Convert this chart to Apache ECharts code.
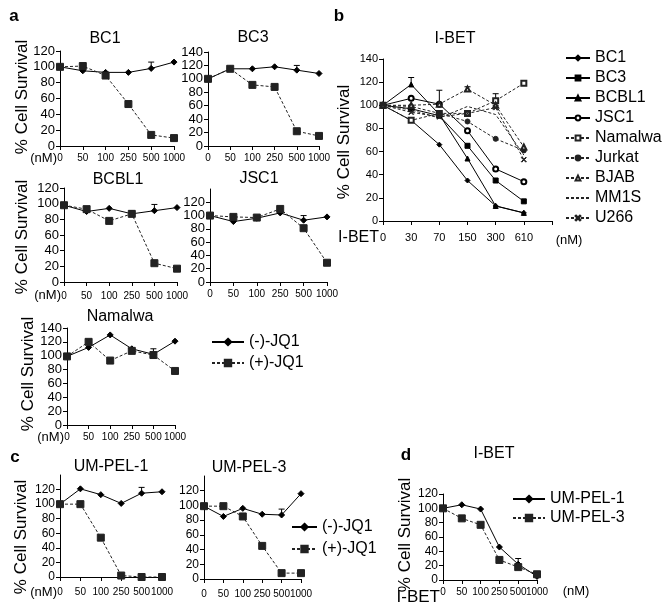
<!DOCTYPE html>
<html><head><meta charset="utf-8">
<script src="https://cdn.jsdelivr.net/npm/echarts@6/dist/echarts.min.js"></script>
<style>html,body{margin:0;padding:0;background:#fff}#c{width:672px;height:610px}</style>
</head><body><div id="c"></div>
<script>
// ---------- data ----------
const jqDoses = ['0','50','100','250','500','1000'];
const ibetDosesB = ['0','30','70','150','300','610',''];
const ibetDosesD = ['0','50','100','250','500','1000'];

const bc1Minus = [100,95,93,93,98,106];
const bc1Plus  = [100,101,89,53,14,10];
const bc1MinusErr = [0,0,0,0,8,0];
const bc3Minus = [100,115,115,118,113,108];
const bc3Plus  = [100,115,91,88,22,15];
const bc3MinusErr = [0,0,0,0,7,0];
const bcbl1Minus = [98,90,94,87,91,95];
const bcbl1Plus  = [98,93,78,87,24,17];
const bcbl1MinusErr = [0,0,0,4,8,0];
const jsc1Minus = [100,91,96,104,93,98];
const jsc1Plus  = [100,98,97,110,81,29];
const jsc1MinusErr = [0,0,0,0,7,0];
const namMinus = [99,112,130,110,102,121];
const namPlus  = [99,120,93,107,101,78];
const namMinusErr = [0,0,0,0,8,0];

const ibBC1 = [100,87,66,35,13,7];
const ibBC3 = [100,97,91,65,35,17];
const ibBCBL1 = [100,118,92,54,13,7];
const ibJSC1 = [100,106,101,78,45,34];
const ibNamalwa = [100,87,93,93,104,119];
const ibJurkat = [100,99,93,86,71,61];
const ibBJAB = [100,100,101,114,100,64];
const ibMM1S = [100,96,89,99,92,57];
const ibU266 = [100,94,90,93,98,53];
const ibBCBL1Err = [0,6,0,0,0,0];
const ibJSC1Err = [0,0,12,0,0,0];
const ibBJABErr = [0,0,0,2,0,0];
const ibNamalwaErr = [0,0,0,0,6,0];

const pel1Minus = [100,121,113,101,115,117];
const pel1Plus  = [100,100,54,2,0,0];
const pel1MinusErr = [0,0,0,0,8,0];
const pel3Minus = [99,85,96,88,87,116];
const pel3Plus  = [99,99,85,45,8,8];
const pel3MinusErr = [0,0,0,0,8,0];

const dPel1 = [100,105,99,46,22,5];
const dPel3 = [100,86,77,28,18,8];
const dPel1Err = [0,0,0,0,8,0];

// ---------- layout/style ----------
const F = "'Liberation Sans', Arial, sans-serif";
const G = [
  {left:60, top:51, width:114, height:95},
  {left:208, top:52, width:111, height:94},
  {left:64, top:188, width:113, height:94},
  {left:210, top:189, width:117, height:93},
  {left:67, top:328, width:108, height:97},
  {left:383, top:59, width:169, height:162},
  {left:60, top:475, width:102, height:102},
  {left:204, top:476, width:97, height:103},
  {left:443, top:494, width:94, height:86}
];
const yMax = [120,140,120,140,140,140,140,140,120];
const yShowMax = [true,true,true,false,true,true,false,false,true];
const yFont = [13,13,13,13,13,11,12,12,12];
const xFont = [10,10,10,10,10,11,10,10,10];
const xMargin = [7,7,9,7,7,11,10,10,7];
const xCats = [jqDoses,jqDoses,jqDoses,jqDoses,jqDoses,ibetDosesB,jqDoses,jqDoses,ibetDosesD];

const grid = G.map(g => Object.assign({outerBoundsMode:'none', containLabel:false}, g));
const xAxis = G.map((g,i) => ({
  type:'category', gridIndex:i, data:xCats[i], boundaryGap:false,
  axisLine:{show:true, lineStyle:{color:'#000', width:1}},
  axisTick:{show:true, length:4, lineStyle:{color:'#000'}},
  axisLabel:{color:'#000', fontSize:xFont[i], fontFamily:F, margin:xMargin[i], interval:0, hideOverlap:false},
  splitLine:{show:false}
}));
const yAxis = G.map((g,i) => ({
  type:'value', gridIndex:i, min:0, max:yMax[i], interval:20,
  axisLine:{show:true, lineStyle:{color:'#000', width:1}},
  axisTick:{show:true, length:4, lineStyle:{color:'#000'}},
  axisLabel:{color:'#000', fontSize:yFont[i], fontFamily:F, margin:5, showMaxLabel:yShowMax[i]},
  splitLine:{show:false}
}));

const XPATH = 'path://M0,1L1,0L5,4L9,0L10,1L6,5L10,9L9,10L5,6L1,10L0,9L4,5Z';
function ln(name, gi, data, dashed, symbol, size) {
  const none = symbol === 'none';
  return {
    type:'line', name, xAxisIndex:gi, yAxisIndex:gi, data,
    symbol: none ? 'circle' : symbol, symbolSize:size, showSymbol: !none,
    lineStyle:{color: dashed ? '#222' : '#000', width:1, type: dashed ? [3,2] : 'solid'},
    itemStyle:{color: dashed ? '#222' : '#000', borderColor: dashed ? '#222':'#000', borderWidth:1, opacity: none ? 0 : 1},
    z:3
  };
}
function minusS(gi, d){ return ln('(-)-JQ1', gi, d, false, 'diamond', 6); }
function plusS(gi, d){ return ln('(+)-JQ1', gi, d, true, 'rect', 7); }
function errS(gi, vals, errs) {
  return {
    type:'custom', xAxisIndex:gi, yAxisIndex:gi, silent:true, z:2,
    data: vals.map((v,i)=>[i, v, errs[i]]).filter(d=>d[2]>0),
    encode:{x:0, y:1},
    renderItem(params, api) {
      const i = api.value(0), v = api.value(1), e = api.value(2);
      const p0 = api.coord([i, v]), p1 = api.coord([i, v+e]);
      return {type:'group', children:[
        {type:'line', shape:{x1:p0[0], y1:p0[1], x2:p1[0], y2:p1[1]}, style:{stroke:'#000', lineWidth:1}},
        {type:'line', shape:{x1:p1[0]-3, y1:p1[1], x2:p1[0]+3, y2:p1[1]}, style:{stroke:'#000', lineWidth:1}}
      ]};
    }
  };
}

const series = [
  minusS(0, bc1Minus), plusS(0, bc1Plus), errS(0, bc1Minus, bc1MinusErr),
  minusS(1, bc3Minus), plusS(1, bc3Plus), errS(1, bc3Minus, bc3MinusErr),
  minusS(2, bcbl1Minus), plusS(2, bcbl1Plus), errS(2, bcbl1Minus, bcbl1MinusErr),
  minusS(3, jsc1Minus), plusS(3, jsc1Plus), errS(3, jsc1Minus, jsc1MinusErr),
  minusS(4, namMinus), plusS(4, namPlus), errS(4, namMinus, namMinusErr),
  ln('BC1', 5, ibBC1, false, 'diamond', 5),
  ln('BC3', 5, ibBC3, false, 'rect', 5),
  ln('BCBL1', 5, ibBCBL1, false, 'triangle', 5),
  ln('JSC1', 5, ibJSC1, false, 'emptyCircle', 5),
  ln('Namalwa', 5, ibNamalwa, true, 'emptyRect', 5),
  ln('Jurkat', 5, ibJurkat, true, 'circle', 5),
  ln('BJAB', 5, ibBJAB, true, 'emptyTriangle', 5),
  ln('MM1S', 5, ibMM1S, true, 'none', 0),
  ln('U266', 5, ibU266, true, XPATH, 5),
  errS(5, ibBCBL1, ibBCBL1Err), errS(5, ibJSC1, ibJSC1Err), errS(5, ibBJAB, ibBJABErr), errS(5, ibNamalwa, ibNamalwaErr),
  minusS(6, pel1Minus), plusS(6, pel1Plus), errS(6, pel1Minus, pel1MinusErr),
  minusS(7, pel3Minus), plusS(7, pel3Plus), errS(7, pel3Minus, pel3MinusErr),
  ln('UM-PEL-1', 8, dPel1, false, 'diamond', 6),
  ln('UM-PEL-3', 8, dPel3, true, 'rect', 7),
  errS(8, dPel1, dPel1Err)
];

function lg(names, left, top, itemWidth, itemHeight, gap) {
  return {
    data:names, orient:'vertical', left, top, itemWidth, itemHeight, itemGap:gap,
    selectedMode:false, padding:0,
    textStyle:{color:'#000', fontSize:16, fontFamily:F, lineHeight:16}
  };
}
const legend = [
  lg(['(-)-JQ1','(+)-JQ1'], 211, 334, 32, 8, 5),
  lg(['(-)-JQ1','(+)-JQ1'], 291, 519, 25, 8, 6),
  lg(['BC1','BC3','BCBL1','JSC1','Namalwa','Jurkat','BJAB','MM1S','U266'], 565, 50, 24, 6, 4),
  lg(['UM-PEL-1','UM-PEL-3'], 512, 491, 32, 8, 3)
];

function T(x, y, text, size, opt) {
  opt = opt || {};
  return {
    type:'text', x, y, rotation: opt.rot || 0, silent:true,
    style:{text, fill:'#000', font:(opt.bold?'bold ':'') + size + 'px ' + F,
      textAlign: opt.align || 'center', textVerticalAlign:'middle',
      align: opt.align || 'center', verticalAlign:'middle'}
  };
}
const R = Math.PI/2;
const graphic = [
  T(14, 16, 'a', 17, {bold:true}),
  T(339, 16, 'b', 17, {bold:true}),
  T(15, 457, 'c', 17, {bold:true}),
  T(406, 455, 'd', 17, {bold:true}),
  T(105, 39, 'BC1', 16), T(253, 38, 'BC3', 16),
  T(118, 180, 'BCBL1', 16), T(259, 179, 'JSC1', 16),
  T(120, 317, 'Namalwa', 16), T(455, 39, 'I-BET', 16),
  T(111, 467, 'UM-PEL-1', 16), T(249, 468, 'UM-PEL-3', 16),
  T(494, 454, 'I-BET', 16),
  T(22, 97, '% Cell Survival', 17, {rot:R}),
  T(22, 237, '% Cell Survival', 17, {rot:R}),
  T(28, 374, '% Cell Survival', 17, {rot:R}),
  T(344, 142, '% Cell Survival', 17, {rot:R}),
  T(21, 537, '% Cell Survival', 17, {rot:R}),
  T(405, 535, '% Cell Survival', 17, {rot:R}),
  T(57, 158, '(nM)', 13, {align:'right'}),
  T(61, 295, '(nM)', 13, {align:'right'}),
  T(64, 437, '(nM)', 13, {align:'right'}),
  T(57, 592, '(nM)', 13, {align:'right'}),
  T(379, 238, 'I-BET', 16, {align:'right'}),
  T(569, 240, '(nM)', 13),
  T(440, 597, 'I-BET', 17, {align:'right'}),
  T(576, 591, '(nM)', 13)
];

const chart = echarts.init(document.getElementById('c'), null, {renderer:'canvas'});
chart.setOption({
  animation:false, backgroundColor:'#fff',
  textStyle:{fontFamily:F},
  grid, xAxis, yAxis, series, legend, graphic
});
</script>
</body></html>
